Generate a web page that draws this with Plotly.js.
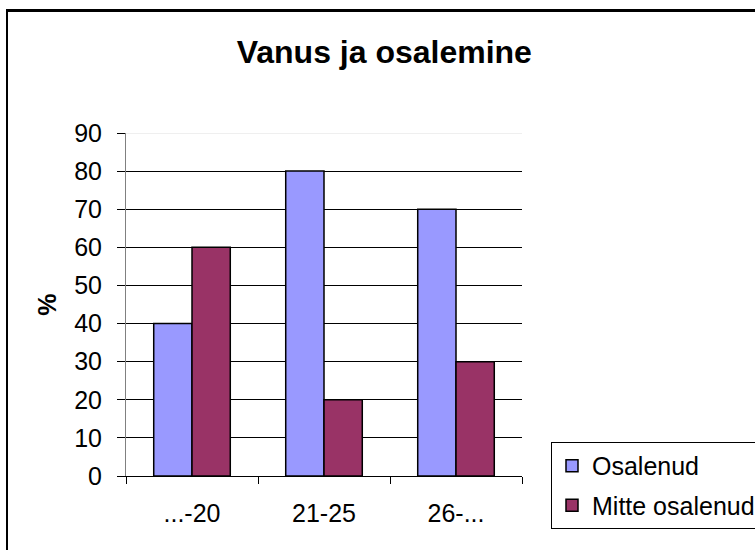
<!DOCTYPE html>
<html>
<head>
<meta charset="utf-8">
<script src="https://cdn.plot.ly/plotly-3.0.1.min.js"></script>
<style>
  html, body { margin: 0; padding: 0; background: #fff; }
  #wrap { position: relative; width: 755px; height: 550px; overflow: hidden; }
  #frame { position: absolute; left: 6px; top: 9px; width: 800px; height: 600px;
           border-top: 3px solid #000; border-left: 2px solid #000; box-sizing: border-box; }
  #chart { position: absolute; left: 0; top: 0; width: 755px; height: 550px; }
</style>
</head>
<body>
<div id="wrap">
  <div id="frame"></div>
  <div id="chart"></div>
</div>
<script>
const categories = ["...-20", "21-25", "26-..."];
const osalenud = [40, 80, 70];
const mitteOsalenud = [60, 20, 30];
const yTicks = [0, 10, 20, 30, 40, 50, 60, 70, 80, 90];
const seriesNames = ["Osalenud", "Mitte osalenud"];

const FONT = '"Liberation Sans", Arial, sans-serif';

const traces = [
  {
    type: 'bar', name: seriesNames[0], x: categories, y: osalenud,
    marker: { color: '#9999FF', line: { color: '#000', width: 1.5 } },
    legendgroup: 'a', hoverinfo: 'none'
  },
  {
    type: 'bar', name: seriesNames[1], x: categories, y: mitteOsalenud,
    marker: { color: '#993366', line: { color: '#000', width: 1.5 } },
    legendgroup: 'b', hoverinfo: 'none'
  }
];

const layout = {
  width: 755, height: 550,
  paper_bgcolor: 'rgba(0,0,0,0)',
  plot_bgcolor: '#fff',
  margin: { l: 126, r: 233, t: 133, b: 74, pad: 0, autoexpand: false },
  font: { family: FONT, size: 25, color: '#000' },
  title: {
    text: 'Vanus ja osalemine',
    font: { family: FONT, size: 32, weight: 'bold', color: '#000' },
    x: 0.509, xanchor: 'center', xref: 'container',
    y: 0.905, yanchor: 'middle', yref: 'container'
  },
  barmode: 'group',
  bargap: 0.42,
  bargroupgap: 0,
  showlegend: true,
  legend: {
    xref: 'container', yref: 'container',
    x: 0.7298, xanchor: 'left', y: 0.1964, yanchor: 'top',
    bgcolor: '#fff', bordercolor: '#000', borderwidth: 1,
    font: { family: FONT, size: 25, color: '#000' },
    traceorder: 'grouped', tracegroupgap: 4
  },
  xaxis: {
    type: 'category',
    showline: true, linecolor: '#000', linewidth: 1,
    ticks: 'outside', tickson: 'boundaries', ticklen: 7, tickcolor: '#000', tickwidth: 1,
    ticklabelstandoff: 15,
    showgrid: false, zeroline: false,
    tickfont: { family: FONT, size: 25, color: '#000' },
    fixedrange: true
  },
  yaxis: {
    range: [0, 90],
    tickvals: yTicks,
    ticktext: yTicks.map(String),
    showline: true, linecolor: '#808080', linewidth: 1,
    ticks: 'outside', ticklen: 8, tickcolor: '#000', tickwidth: 1,
    ticklabelstandoff: 10,
    showgrid: true, gridcolor: '#000', gridwidth: 1,
    zeroline: false,
    tickfont: { family: FONT, size: 25, color: '#000' },
    title: { text: '%', font: { family: FONT, size: 25, weight: 'bold', color: '#000' }, standoff: 10 },
    fixedrange: true
  },
  shapes: [
    { type: 'line', xref: 'paper', yref: 'y', x0: 0, x1: 1, y0: 90, y1: 90,
      line: { color: '#e0e0e0', width: 1 }, layer: 'above' }
  ]
};

Plotly.newPlot('chart', traces, layout, { displayModeBar: false, staticPlot: true });
</script>
</body>
</html>
